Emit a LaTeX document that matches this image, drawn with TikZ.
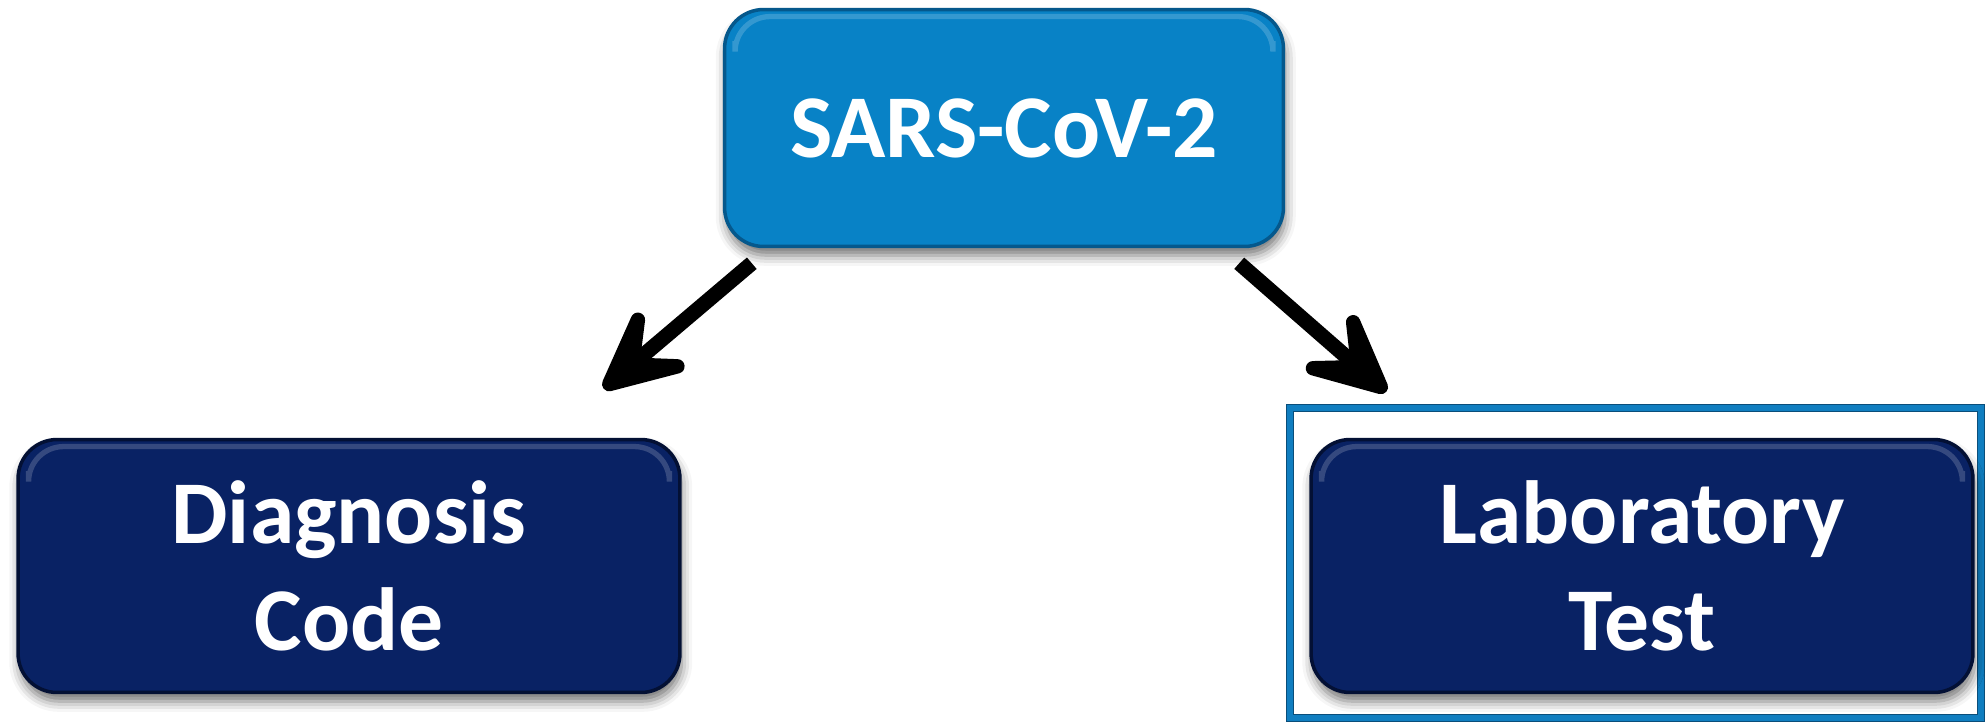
\documentclass[tikz,border=0pt]{standalone}
\usepackage{fontspec}
\setmainfont{Carlito}
\usetikzlibrary{arrows.meta,shadows.blur,calc}
\definecolor{skyblue}{RGB}{8,130,198}
\definecolor{skyedge}{RGB}{5,88,140}
\definecolor{navy}{RGB}{9,34,100}
\definecolor{navyedge}{RGB}{3,16,52}
\definecolor{framecol}{RGB}{16,126,192}
\definecolor{frameedge}{RGB}{10,78,122}
\tikzset{
  boxbase/.style={rounded corners=0.78cm, line width=2pt, align=center,
    text=white, font=\fontsize{51}{61}\selectfont\bfseries,
    blur shadow={shadow xshift=1pt, shadow yshift=-5pt, shadow blur radius=6pt, shadow opacity=55},
    path picture={
      \draw[white, opacity=0.18, line width=3pt, rounded corners=0.7cm]
        ([xshift=6pt,yshift=-18pt]path picture bounding box.north west)
        -- ([xshift=6pt,yshift=-4pt]path picture bounding box.north west)
        -- ([xshift=-6pt,yshift=-4pt]path picture bounding box.north east)
        -- ([xshift=-6pt,yshift=-18pt]path picture bounding box.north east);
    }},
  topbox/.style={boxbase, fill=skyblue, draw=skyedge,
    minimum width=11.18cm, minimum height=4.74cm},
  leafbox/.style={boxbase, fill=navy, draw=navyedge,
    minimum width=13.24cm, minimum height=5.06cm},
  link/.style={line width=0.3cm, -{Stealth[length=2.4cm, width=2.3cm, inset=1.25cm, round]}},
  framebox/.style={draw=framecol, line width=0.15cm}
}
\begin{document}
\begin{tikzpicture}[x=0.02cm,y=-0.02cm]
  \useasboundingbox (0,0) rectangle (1987,721);
  % highlight frame around the laboratory branch
  \draw[framebox] (1290,408) rectangle (1981,718);
  \draw[frameedge, line width=0.6pt] (1286.5,404.5) rectangle (1984.5,721.5);
  \draw[frameedge, line width=0.6pt] (1293.5,411.5) rectangle (1977.5,714.5);
  % boxes
  \node[topbox] (sars) at (1004,128) {SARS-CoV-2};
  \node[leafbox] (diag) at (349,566) {Diagnosis\\Code};
  \node[leafbox] (lab) at (1642,566) {Laboratory\\Test};
  % connectors
  \draw[link] ($(sars.south west)+(29,15)$) -- ($(diag.north east)+(-78,-49)$);
  \draw[link] ($(sars.south east)+(-46,15)$) -- ($(lab.north west)+(77,-46)$);
\end{tikzpicture}
\end{document}
